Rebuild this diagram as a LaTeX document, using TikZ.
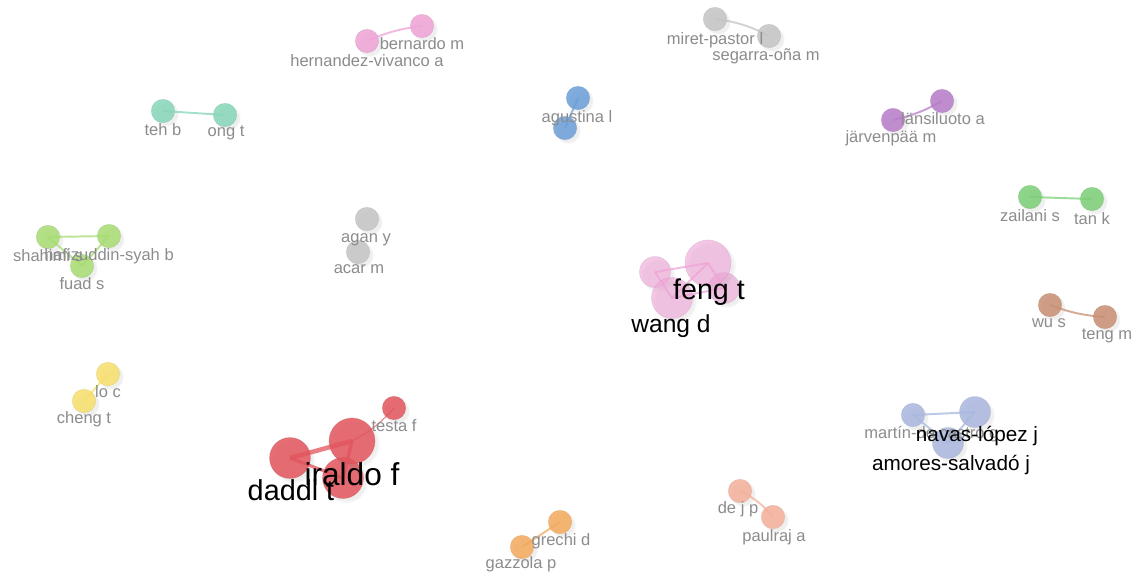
\documentclass[tikz,border=0pt]{standalone}
\usepackage{fontspec}
\setmainfont{Liberation Sans}
\usetikzlibrary{shadows}
\definecolor{pinkc}{HTML}{EFA3D6}
\definecolor{greyc}{HTML}{C4C4C4}
\definecolor{bluec}{HTML}{6A9FD8}
\definecolor{purplec}{HTML}{B77CC9}
\definecolor{tealc}{HTML}{86D6B8}
\definecolor{limec}{HTML}{A8DC72}
\definecolor{greenc}{HTML}{7BCF77}
\definecolor{brownc}{HTML}{C98E72}
\definecolor{yellowc}{HTML}{F7DF6A}
\definecolor{redc}{HTML}{E2545C}
\definecolor{periwinklec}{HTML}{A9B6DF}
\definecolor{orangec}{HTML}{F4A95C}
\definecolor{salmonc}{HTML}{F4B09A}
\definecolor{labelgrey}{HTML}{8C8C8C}
\tikzset{
  bub/.style={
    circle,
    inner sep=0pt,
    fill=#1,
    fill opacity=0.85,
    draw=#1!80!black,
    draw opacity=0.25,
    circular drop shadow={opacity=0.12, shadow xshift=1.5pt, shadow yshift=-1.5pt}
  },
  dotS/.style={minimum size=0.47cm},
  dotM/.style={minimum size=0.62cm},
  dotL/.style={minimum size=0.82cm},
  dotXL/.style={minimum size=0.92cm},
  lbl/.style={
    text=labelgrey,
    inner sep=0pt,
    font=\fontsize{9.4}{11}\selectfont
  },
  biglbl/.style={
    text=black,
    inner sep=0pt,
    font=\fontsize{#1}{#1}\selectfont
  },
  link/.style={
    draw=#1,
    line width=1.1pt,
    draw opacity=0.75
  }
}

\begin{document}
\begin{tikzpicture}[x=0.02cm, y=-0.02cm]
  \fill[white] (0,0) rectangle (1131,572);
  \useasboundingbox (0,0) rectangle (1131,572);

  \node[bub=pinkc, dotS] (hva) at (367,41) {};
  \node[bub=pinkc, dotS] (bm) at (422,26) {};
  \node[bub=greyc, dotS] (mp) at (715,19) {};
  \node[bub=greyc, dotS] (so) at (769,36) {};
  \node[bub=bluec, dotS] (ag) at (578,98) {};
  \node[bub=bluec, dotS] (ag2) at (565,128) {};
  \node[bub=purplec, dotS] (la) at (942,101) {};
  \node[bub=purplec, dotS] (jm) at (893,120) {};
  \node[bub=tealc, dotS] (tb) at (163,111) {};
  \node[bub=tealc, dotS] (ot) at (225,115) {};
  \node[bub=limec, dotS] (ss) at (48,237) {};
  \node[bub=limec, dotS] (hs) at (109,236) {};
  \node[bub=limec, dotS] (fs) at (82,266) {};
  \node[bub=greyc, dotS] (ay) at (367,219) {};
  \node[bub=greyc, dotS] (am) at (358,252) {};
  \node[bub=greenc, dotS] (zs) at (1030,197) {};
  \node[bub=greenc, dotS] (tk) at (1092,199) {};
  \node[bub=brownc, dotS] (ws) at (1050,305) {};
  \node[bub=brownc, dotS] (tm) at (1105,317) {};
  \node[bub=yellowc, dotS] (lc) at (108,374) {};
  \node[bub=yellowc, dotS] (ct) at (84,401) {};
  \node[bub=orangec, dotS] (gd) at (560,522) {};
  \node[bub=orangec, dotS] (gp) at (522,547) {};
  \node[bub=salmonc, dotS] (dj) at (740,491) {};
  \node[bub=salmonc, dotS] (pa) at (773,517) {};

  \node[bub=pinkc, dotM, fill opacity=0.6] (fc1) at (655,272) {};
  \node[bub=pinkc, dotM, fill opacity=0.6] (fc2) at (724,288) {};
  \node[bub=pinkc, dotL, fill opacity=0.6] (wd) at (672,298) {};
  \node[bub=pinkc, dotXL, fill opacity=0.6] (ft) at (708,263) {};

  \node[bub=redc, dotS] (tf) at (394,408) {};
  \node[bub=redc, dotL] (rc) at (343,478) {};
  \node[bub=redc, dotL] (dt) at (290,458) {};
  \node[bub=redc, dotXL] (if) at (352,441) {};

  \node[bub=periwinklec, dotS] (mc) at (913,415) {};
  \node[bub=periwinklec, dotM] (nl) at (975,412) {};
  \node[bub=periwinklec, dotM] (as) at (948,443) {};

  \draw[link=pinkc] (hva.center) to[bend left=8] (bm.center);
  \draw[link=greyc] (mp.center) to[bend left=10] (so.center);
  \draw[link=bluec] (ag.center) -- (ag2.center);
  \draw[link=purplec] (jm.center) to[bend right=8] (la.center);
  \draw[link=tealc] (tb.center) -- (ot.center);
  \draw[link=limec] (ss.center) -- (hs.center);
  \draw[link=limec] (ss.center) -- (fs.center);
  \draw[link=limec] (hs.center) -- (fs.center);
  \draw[link=greenc] (zs.center) -- (tk.center);
  \draw[link=brownc] (ws.center) to[bend right=8] (tm.center);
  \draw[link=yellowc] (lc.center) -- (ct.center);
  \draw[link=orangec] (gd.center) -- (gp.center);
  \draw[link=salmonc] (dj.center) to[bend left=12] (pa.center);
  \draw[link=pinkc] (fc1.center) -- (ft.center);
  \draw[link=pinkc] (fc1.center) -- (wd.center);
  \draw[link=pinkc] (ft.center) -- (wd.center);
  \draw[link=pinkc] (ft.center) -- (fc2.center);
  \draw[link=pinkc] (wd.center) -- (fc2.center);
  \draw[link=redc, line width=2.6pt] (dt.center) -- (if.center);
  \draw[link=redc, line width=1.8pt] (if.center) -- (rc.center);
  \draw[link=redc, line width=1.8pt] (dt.center) -- (rc.center);
  \draw[link=redc, line width=0.6pt] (if.center) to[bend right=10] (tf.center);
  \draw[link=periwinklec] (mc.center) -- (nl.center);
  \draw[link=periwinklec] (mc.center) -- (as.center);
  \draw[link=periwinklec] (nl.center) -- (as.center);

  \node[lbl] (bmL) at (422,44) {bernardo m};
  \node[lbl] (hvaL) at (367,61) {hernandez-vivanco a};
  \node[lbl] (mpL) at (715,40) {miret-pastor l};
  \node[lbl] (soL) at (766,56) {segarra-oña m};
  \node[lbl] (agL) at (577,118) {agustina l};
  \node[lbl] (laL) at (943,119) {länsiluoto a};
  \node[lbl] (jmL) at (891,138) {järvenpää m};
  \node[lbl] (tbL) at (163,130) {teh b};
  \node[lbl] (otL) at (226,133) {ong t};
  \node[lbl] (ssL) at (48,256) {shahimi s};
  \node[lbl] (hsL) at (109,256) {hafizuddin-syah b};
  \node[lbl] (fsL) at (82,284) {fuad s};
  \node[lbl] (ayL) at (366,240) {agan y};
  \node[lbl] (amL) at (359,269) {acar m};
  \node[lbl] (zsL) at (1030,216) {zailani s};
  \node[lbl] (tkL) at (1092,219) {tan k};
  \node[lbl] (wsL) at (1049,323) {wu s};
  \node[lbl] (tmL) at (1107,336) {teng m};
  \node[lbl] (lcL) at (108,392) {lo c};
  \node[lbl] (ctL) at (84,419) {cheng t};
  \node[lbl] (tfL) at (394,426) {testa f};
  \node[lbl] (gdL) at (561,541) {grechi d};
  \node[lbl] (gpL) at (521,564) {gazzola p};
  \node[lbl] (djL) at (738,509) {de j p};
  \node[lbl] (paL) at (774,537) {paulraj a};
  \node[lbl, anchor=west] (mcL) at (864,434) {martín-de castro g};

  \node[biglbl=16.3] (ftL) at (709,292) {feng t};
  \node[biglbl=14] (wdL) at (671,326) {wang d};
  \node[biglbl=18] (ifL) at (352,474) {iraldo f};
  \node[biglbl=16.4] (dtL) at (291,490) {daddi t};
  \node[biglbl=11.8] (nlL) at (977,436) {navas-lópez j};
  \node[biglbl=11.8] (asL) at (951,465) {amores-salvadó j};
\end{tikzpicture}
\end{document}
